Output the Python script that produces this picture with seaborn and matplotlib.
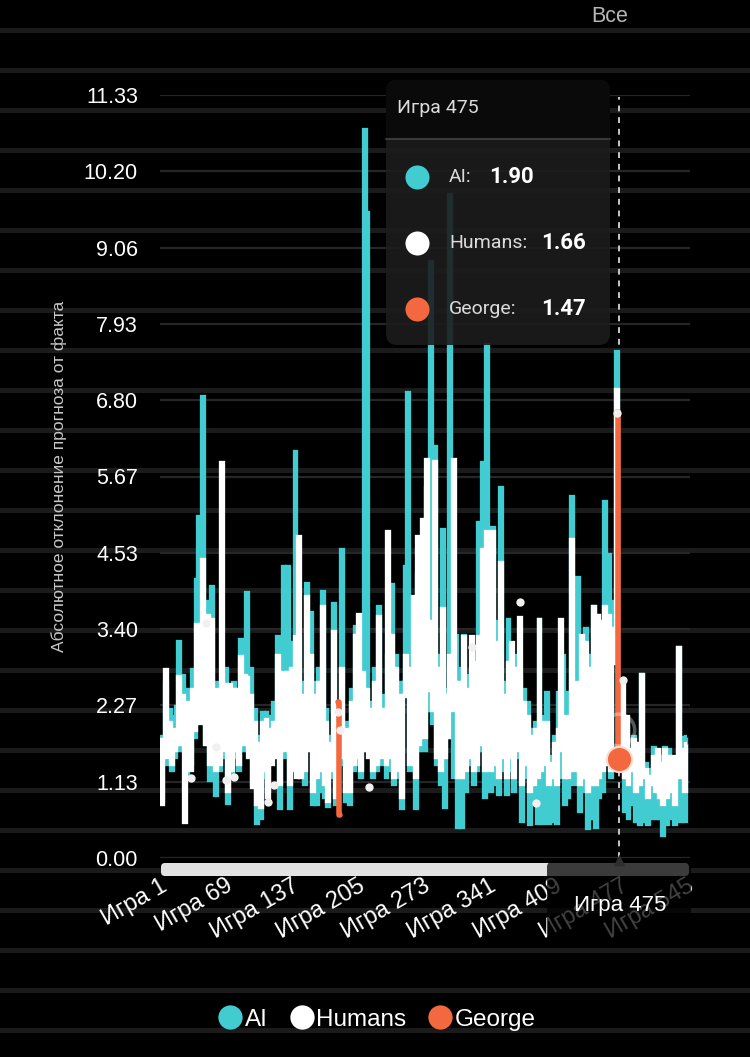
import numpy as np
import pandas as pd
import matplotlib
matplotlib.use("Agg")
import matplotlib.pyplot as plt
import seaborn as sns
from matplotlib.patches import FancyBboxPatch, Rectangle
from matplotlib.lines import Line2D

# ---------------- data ----------------
games = list(range(1, 546, 2))  # every second game, 273 points

ai = [
    1.80, 0.86, 1.75, 2.60, 1.40,  2.20, 1.30, 2.10, 1.50, 2.24,
    3.21, 1.60, 2.70, 1.90, 1.20,  2.50, 1.40, 2.79, 1.80, 4.13,
    5.06, 2.20, 6.85, 3.00, 1.70,  3.80, 1.16, 4.02, 2.50, 0.94,
    2.60, 1.30, 2.20, 1.50, 2.80,  0.82, 2.40, 1.20, 2.60, 1.50,
    2.40, 1.30, 3.24, 1.60, 2.90,  3.93, 1.60, 2.80, 1.10, 2.20,
    0.52, 1.80, 0.60, 2.15, 1.20,  2.15, 1.00, 2.10, 1.50, 2.30,
    1.60, 3.28, 0.74, 2.40, 4.32,  1.50, 4.32, 0.74, 3.20, 1.90,
    6.03, 1.50, 3.28, 1.20, 2.60,  1.10, 4.07, 1.80, 3.64, 0.80,
    2.60, 0.80, 2.80, 1.00, 3.95,  0.90, 2.20, 0.77, 1.80, 1.20,
    3.77, 0.80, 2.20, 1.40, 4.57,  1.50, 0.85, 2.00, 0.80, 2.50,
    1.30, 3.43, 1.40, 2.40, 1.20,  2.40, 10.81, 9.58, 1.60, 2.30,
    1.20, 2.80, 1.30, 3.73, 1.40,  1.60, 2.40, 1.20, 3.00, 1.30,
    4.05, 1.10, 3.00, 1.20, 2.60,  0.74, 2.60, 4.32, 6.90, 1.30,
    1.50, 3.53, 0.74, 4.20, 1.60,  2.20, 4.50, 1.60, 5.50, 2.20,
    8.85, 2.00, 6.10, 1.40, 3.00,  1.10, 4.87, 0.75, 2.50, 1.80,
    9.84, 2.00, 1.20, 3.30, 0.46,  2.80, 0.46, 3.30, 1.00, 2.70,
    1.40, 2.80, 1.10, 3.10, 1.30,  4.97, 1.60, 5.87, 0.90, 7.62,
    2.40, 1.00, 4.90, 1.10, 3.50,  0.95, 5.49, 1.30, 2.60, 0.95,
    3.53, 1.30, 2.40, 1.00, 3.00,  1.50, 2.70, 0.55, 2.50, 1.20,
    2.30, 0.50, 1.90, 0.85, 2.00,  0.52, 3.53, 1.40, 0.52, 2.10,
    2.45, 0.52, 1.50, 0.55, 1.80,  0.52, 2.45, 1.20, 3.00, 0.80,
    2.45, 0.90, 1.80, 5.36, 1.10,  2.00, 4.16, 0.70, 2.50, 1.00,
    3.40, 0.45, 3.00, 0.60, 3.73,  0.46, 3.60, 0.90, 3.40, 1.00,
    5.29, 1.50, 4.50, 1.20, 3.80,  3.20, 7.51, 1.90, 1.40, 2.10,
    0.70, 2.00, 0.60, 1.50, 0.80,  1.80, 0.55, 1.60, 0.50, 2.72,
    0.55, 1.40, 0.50, 1.30, 0.60,  1.63, 0.60, 1.55, 0.60, 1.50,
    0.34, 1.63, 0.50, 1.60, 0.60,  1.40, 0.50, 1.20, 3.12, 0.55,
    1.78, 0.55, 1.80,
]

humans = [
    1.75, 0.80, 1.70, 2.79, 1.50,  2.00, 1.40, 1.90, 1.60, 1.70,
    2.69, 1.70, 2.40, 0.53, 1.40,  2.30, 1.30, 2.50, 1.90, 3.46,
    3.20, 2.00, 4.42, 2.60, 1.70,  3.60, 1.40, 3.53, 2.10, 1.30,
    2.50, 1.40, 5.87, 1.60, 2.57,  1.00, 2.57, 1.30, 2.50, 1.60,
    2.50, 1.40, 2.98, 1.70, 2.70,  2.67, 1.50, 2.40, 1.05, 2.00,
    0.80, 1.70, 0.75, 2.00, 1.30,  2.05, 0.90, 1.90, 1.40, 2.00,
    1.50, 3.00, 1.10, 2.00, 2.75,  1.60, 2.75, 1.10, 2.80, 1.30,
    3.28, 1.20, 4.77, 1.20, 2.40,  1.30, 3.88, 1.60, 3.00, 1.00,
    2.40, 1.20, 2.60, 1.30, 3.73,  1.10, 2.00, 0.85, 1.70, 1.30,
    3.36, 0.90, 2.10, 1.50, 2.80,  1.60, 1.00, 1.90, 1.00, 2.30,
    1.40, 3.30, 1.50, 3.61, 1.30,  2.75, 1.60, 2.50, 1.50, 2.20,
    1.30, 2.60, 1.40, 3.58, 1.50,  1.70, 2.20, 1.40, 4.84, 1.50,
    3.30, 1.20, 2.80, 1.30, 2.40,  0.90, 2.40, 3.00, 2.80, 1.40,
    1.60, 3.88, 1.20, 4.77, 1.70,  2.40, 5.02, 1.80, 5.91, 2.50,
    3.50, 2.20, 5.88, 1.50, 2.80,  1.30, 3.70, 1.50, 2.40, 1.80,
    3.00, 2.20, 5.91, 2.60, 1.20,  2.60, 1.20, 3.28, 1.30, 2.50,
    1.50, 3.28, 1.30, 2.90, 1.40,  3.28, 1.70, 4.57, 1.30, 4.84,
    2.20, 1.30, 4.84, 1.40, 3.20,  1.20, 4.38, 1.50, 2.40, 1.20,
    2.90, 1.50, 3.20, 1.20, 2.80,  1.60, 3.56, 1.10, 2.30, 1.40,
    2.10, 1.00, 1.80, 1.10, 1.90,  1.20, 3.53, 1.30, 1.40, 2.00,
    2.00, 1.10, 1.40, 1.20, 1.70,  1.10, 1.90, 3.53, 1.60, 1.20,
    2.10, 1.20, 1.70, 4.72, 1.30,  1.90, 2.60, 1.10, 3.30, 1.20,
    3.20, 1.00, 2.80, 1.10, 3.73,  1.10, 3.60, 1.20, 3.50, 1.30,
    3.73, 1.40, 3.60, 1.30, 3.40,  2.90, 6.95, 1.66, 1.40, 2.64,
    1.20, 2.10, 1.10, 1.60, 1.30,  1.75, 1.00, 1.70, 1.10, 2.72,
    1.20, 1.30, 0.90, 1.20, 1.10,  1.50, 1.00, 1.60, 0.90, 1.40,
    0.80, 1.60, 0.90, 1.50, 1.00,  1.50, 0.80, 1.30, 3.12, 1.20,
    1.60, 1.00, 1.70,
]

george_games = [185, 187, 473, 475]
george_values = [2.32, 0.64, 6.62, 1.47]
george_segment = [1, 1, 2, 2]

dot_games = [33, 49, 59, 69, 77, 113, 119, 185, 187, 217, 323, 373, 389, 473, 479]
dot_values = [1.19, 3.49, 1.65, 1.16, 1.20, 0.83, 1.08, 2.17, 1.90, 1.05, 3.13, 3.80, 0.82, 6.61, 2.64]

ytick_values = [0.00, 1.133, 2.266, 3.399, 4.532, 5.665, 6.798, 7.931, 9.064, 10.197, 11.33]
ytick_labels = ["0.00", "1.13", "2.27", "3.40", "4.53", "5.67", "6.80", "7.93", "9.06", "10.20", "11.33"]
xtick_games = [1, 69, 137, 205, 273, 341, 409, 477, 545]
xtick_labels = ["Игра " + str(g) for g in xtick_games]

series_names = ["AI", "Humans", "George"]
hover_game = 475
hover_values = ["1.90", "1.66", "1.47"]
hover_ai = 1.90
hover_george = 1.47

CYAN = "#40CCD1"
WHITE = "#FFFFFF"
ORANGE = "#F4683F"

# ---------------- figure ----------------
sns.set_theme(style="dark")
plt.rcParams["font.family"] = ["Liberation Sans", "DejaVu Sans"]
W, H = 750, 1057
fig = plt.figure(figsize=(W / 100, H / 100), dpi=100, facecolor="black")

# background axes (pixel coordinates) for scan stripes and slider
bg = fig.add_axes([0, 0, 1, 1], zorder=0)
bg.set_xlim(0, W)
bg.set_ylim(H, 0)
bg.axis("off")
bg.set_facecolor("black")
for y in range(30, 1040, 40):
    bg.add_patch(Rectangle((0, y - 2.5), W, 5, color="#1b1b1b", lw=0))
bg.add_patch(FancyBboxPatch((161, 863), 528, 13, boxstyle="round,pad=0,rounding_size=4",
                            fc="#e3e3e3", ec="none"))

# main axes
L, R, T, B = 160, 690, 95, 858
ax = fig.add_axes([L / W, 1 - B / H, (R - L) / W, (B - T) / H], zorder=2)
ax.set_facecolor("none")
for s in ax.spines.values():
    s.set_visible(False)

ax.axvline(hover_game, ymin=0, ymax=11.30 / 11.33, color="#c8c8c8", lw=1.4,
           ls=(0, (3, 3)), zorder=1)

line_kw = dict(estimator=None, sort=False, legend=False, drawstyle="steps-mid",
               solid_joinstyle="miter", solid_capstyle="butt")
sns.lineplot(x=games, y=ai, ax=ax, color=CYAN, lw=3.1, zorder=2, **line_kw)
sns.lineplot(x=games, y=humans, ax=ax, color=WHITE, lw=3.1, zorder=3, **line_kw)
gdf = pd.DataFrame({"game": george_games, "value": george_values, "seg": george_segment})
sns.lineplot(data=gdf, x="game", y="value", units="seg", estimator=None, ax=ax,
             color=ORANGE, lw=4, legend=False, zorder=4, drawstyle="steps-mid")
sns.scatterplot(x=dot_games, y=dot_values, ax=ax, color="#f2f0ee", s=36, lw=0,
                zorder=5, legend=False)
# hover markers
ax.scatter([hover_game], [hover_ai], s=520, facecolors="none", edgecolors=(1, 1, 1, 0.35),
           lw=2.5, zorder=6)
ax.scatter([hover_game], [hover_george], s=330, color=ORANGE, edgecolors="#f7ddd3",
           lw=1.5, zorder=7)

ax.set_xlim(1, 548.5)
ax.set_ylim(0, 11.33)
ax.set_yticks(ytick_values)
ax.set_yticklabels(ytick_labels)
ax.set_xticks(xtick_games)
ax.set_xticklabels(xtick_labels, rotation=30, ha="right", rotation_mode="anchor")
ax.tick_params(axis="y", length=0, pad=16, labelsize=15.5, labelcolor="white")
ax.tick_params(axis="x", length=0, pad=12, labelsize=17, labelcolor="white")
ax.grid(axis="y", color="#262626", lw=1.6)
ax.grid(axis="x", visible=False)
ax.set_xlabel("")
ax.set_ylabel("Абсолютное отклонение прогноза от факта", color="#c8c8c8", fontsize=12.5,
              labelpad=12)

# overlay axes (pixel coordinates)
ov = fig.add_axes([0, 0, 1, 1], zorder=5)
ov.set_xlim(0, W)
ov.set_ylim(H, 0)
ov.axis("off")
ov.set_facecolor("none")

# "All" button
ov.text(610, 16, "Все", color="#b8b8b8", fontsize=15.5, ha="center", va="center")

# axis pointer label
ov.add_patch(FancyBboxPatch((547, 862), 144, 82, boxstyle="round,pad=0,rounding_size=5",
                            fc=(0, 0, 0, 0.74), ec="none"))
ov.scatter([619], [860], marker="^", s=70, color="#2e2e2e", lw=0)
ov.text(620, 905, "Игра " + str(hover_game), color="white", fontsize=16, ha="center",
        va="center")

# tooltip
tx0, tx1, ty0, ty1 = 386, 610, 80, 345
ov.add_patch(FancyBboxPatch((tx0, ty0), tx1 - tx0, ty1 - ty0,
                            boxstyle="round,pad=0,rounding_size=11",
                            fc=(0.11, 0.11, 0.11, 0.9), ec="none"))
ov.add_patch(FancyBboxPatch((tx0, ty0), tx1 - tx0, 58,
                            boxstyle="round,pad=0,rounding_size=11",
                            fc="#0a0a0a", ec="none"))
ov.add_patch(Rectangle((tx0, ty0 + 40), tx1 - tx0, 18, fc="#0a0a0a", ec="none"))
ov.plot([tx0, tx1], [138.5, 138.5], color="#3a3a3a", lw=1.5)
tfont = ["Roboto", "DejaVu Sans"]
ov.text(397, 108, "Игра " + str(hover_game), color="#dcdcdc", fontsize=14, family=tfont,
        ha="left", va="center")
rows_y = [177, 243, 309]
row_colors = [CYAN, WHITE, ORANGE]
value_x = [489, 541, 541]
for name, yy, c, vx, val in zip(series_names, rows_y, row_colors, value_x, hover_values):
    ov.scatter([417], [yy], s=300, color=c, lw=0)
    ov.text(449, yy, name + ":", color="#dcdcdc", fontsize=14, family=tfont,
            ha="left", va="center")
    ov.text(vx, yy, val, color="white", fontsize=16, family=tfont, weight="bold",
            ha="left", va="center")

# legend
handles = [Line2D([], [], ls="none", marker="o", markersize=17.5, markerfacecolor=c,
                  markeredgecolor="none") for c in row_colors]
leg = fig.legend(handles, series_names, loc="center", bbox_to_anchor=(0.501, 1 - 1020 / H),
                 ncol=3, frameon=False, fontsize=17.5, handletextpad=0.0,
                 columnspacing=0.8, labelcolor="white", handlelength=1.2)

fig.savefig("out.png", dpi=100, facecolor="black")
